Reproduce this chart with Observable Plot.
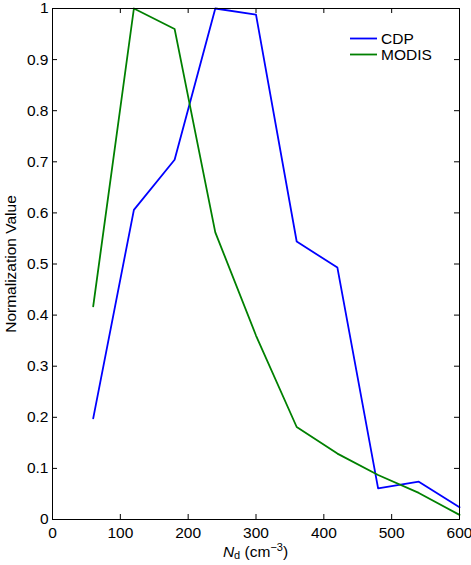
<!DOCTYPE html>
<html><head><meta charset="utf-8">
<script src="https://cdn.jsdelivr.net/npm/d3@7"></script>
<script src="https://cdn.jsdelivr.net/npm/@observablehq/plot@0.6"></script>
<style>body{margin:0;background:#fff;font-family:"Liberation Sans",Arial,sans-serif;}</style>
</head><body><div id="chart"></div>
<script>
const nd = [60, 120, 180, 240, 300, 360, 420, 480, 540, 600];
const cdp = [0.198, 0.606, 0.704, 1.0, 0.988, 0.544, 0.493, 0.061, 0.074, 0.024];
const modis = [0.417, 1.0, 0.96, 0.562, 0.36, 0.181, 0.129, 0.087, 0.052, 0.009];
const seriesNames = ["CDP", "MODIS"];
const seriesColors = ["#0000ff", "#008000"];
const xTicks = [0, 100, 200, 300, 400, 500, 600];
const yTicks = [0, 0.1, 0.2, 0.3, 0.4, 0.5, 0.6, 0.7, 0.8, 0.9, 1];

const rows = [];
nd.forEach((x, i) => rows.push({x, y: cdp[i], s: "CDP"}));
nd.forEach((x, i) => rows.push({x, y: modis[i], s: "MODIS"}));

const W = 471, H = 565;
const mL = 52, mR = 12, mT = 8, mB = 46;
const innerH = H - mT - mB, innerW = W - mL - mR;
const tk = 5;
const FS = 15.5;

const plot = Plot.plot({
  width: W, height: H,
  marginLeft: mL, marginRight: mR, marginTop: mT, marginBottom: mB,
  style: {fontFamily: "Liberation Sans, Arial, sans-serif", fontSize: FS + "px", background: "#fff", color: "#000"},
  x: {domain: [0, 600]},
  y: {domain: [0, 1]},
  color: {domain: seriesNames, range: seriesColors},
  marks: [
    Plot.axisX(xTicks, {tickSize: 0, tickPadding: 7, fontSize: FS, label: null, tickFormat: d => String(d)}),
    Plot.axisY(yTicks, {tickSize: 0, tickPadding: 4, fontSize: FS, label: null, tickFormat: d => String(d)}),
    Plot.tickX(xTicks, {x: d => d, insetTop: innerH - tk, stroke: "#000"}),
    Plot.tickX(xTicks, {x: d => d, insetBottom: innerH - tk, stroke: "#000"}),
    Plot.tickY(yTicks, {y: d => d, insetRight: innerW - tk, stroke: "#000"}),
    Plot.tickY(yTicks, {y: d => d, insetLeft: innerW - tk, stroke: "#000"}),
    Plot.line(rows, {x: "x", y: "y", z: "s", stroke: "s", strokeWidth: 1.8}),
    Plot.frame({stroke: "#000", strokeWidth: 1}),
    Plot.text(["Normalization Value"], {frameAnchor: "left", textAnchor: "middle", text: d => d, rotate: -90, dx: -41, fontSize: FS, fill: "#000"})
  ]
});
document.getElementById("chart").appendChild(plot);

const svg = d3.select(plot);
// x label with italic N, subscript d, superscript -3
const xl = svg.append("text")
  .attr("x", mL + innerW / 2).attr("y", 557)
  .attr("text-anchor", "middle")
  .attr("font-family", "Liberation Sans, Arial, sans-serif")
  .attr("font-size", FS).attr("fill", "#000");
xl.append("tspan").attr("font-style", "italic").text("N");
xl.append("tspan").attr("font-size", 11).attr("dy", 2).text("d");
xl.append("tspan").attr("dy", -2).text(" (cm");
xl.append("tspan").attr("font-size", 11).attr("dy", -6).text("\u22123");
xl.append("tspan").attr("dy", 6).text(")");

// legend
const lg = svg.append("g").attr("font-family", "Liberation Sans, Arial, sans-serif").attr("font-size", FS).attr("text-anchor", "start");
seriesNames.forEach((name, i) => {
  const y = 38.5 + i * 16;
  lg.append("line").attr("x1", 350).attr("x2", 377).attr("y1", y).attr("y2", y)
    .attr("stroke", seriesColors[i]).attr("stroke-width", 1.8);
  lg.append("text").attr("x", 381).attr("y", y).attr("dy", "0.36em").attr("fill", "#000").attr("text-anchor", "start").text(name);
});
</script></body></html>
